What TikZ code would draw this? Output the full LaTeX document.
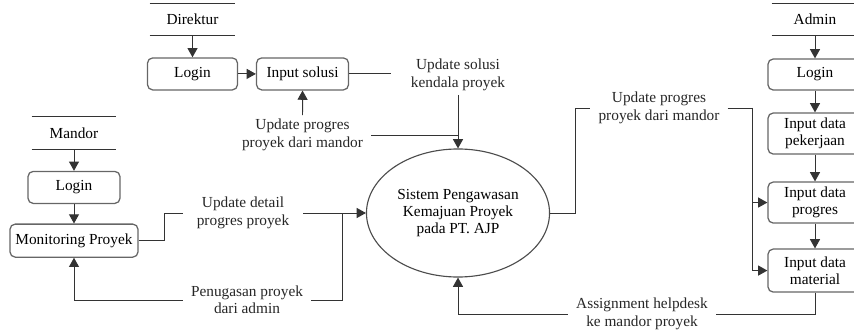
\documentclass[tikz,border=0pt]{standalone}
\usepackage{fontspec}
\setmainfont{Liberation Serif}
\usetikzlibrary{shapes.geometric, arrows.meta, positioning}
\tikzstyle{actor} = [rectangle, minimum width=2.1cm, minimum height=0.8cm, text centered]
\tikzstyle{process} = [rectangle, rounded corners=0.13cm, minimum width=2.3cm, minimum height=0.8cm, text centered, align=center, draw=black!60, line width=0.9pt, inner sep=1pt]
\tikzstyle{sistem} = [ellipse, minimum width=4.575cm, minimum height=3.2cm, align=center, draw=black!70, line width=0.8pt, inner sep=0pt]
\tikzstyle{flowlabel} = [align=center, inner xsep=0.2cm, inner ysep=0.1cm, text=black!85]
\tikzstyle{flow} = [line width=0.7pt, draw=black!80]
\tikzstyle{arrow} = [line width=0.7pt, draw=black!80, -{Triangle[length=2.3mm,width=2.5mm]}]

\begin{document}
\begin{tikzpicture}[x=0.025cm, y=-0.025cm, node distance=1.36cm, font=\fontsize{10.9}{12.4}\selectfont]
\useasboundingbox (0,0) rectangle (854,334);
\clip (0,0) rectangle (854,334);

% Mandor
\node (mandor) [actor] at (74,133) {Mandor};
\node (mlogin) [process, below of=mandor] {Login};
\node (monitor) [process, below of=mlogin, node distance=1.33cm, minimum width=3.2cm, minimum height=0.825cm] {Monitoring Proyek};

% Direktur
\node (direktur) [actor, minimum width=2.125cm] at (192.5,19.5) {Direktur};
\node (dlogin) [process, below of=direktur, minimum width=2.25cm] {Login};
\node (solusi) [process, right of=dlogin, node distance=2.75cm] {Input solusi};

% Admin
\node (admin) [actor, minimum width=2.15cm] at (815,19.5) {Admin};
\node (alogin) [process, below of=admin, node distance=1.375cm, minimum width=2.35cm, minimum height=0.775cm] {Login};
\node (pekerjaan) [process, below of=alogin, node distance=1.475cm, minimum width=2.35cm, minimum height=1.025cm] {Input data\\pekerjaan};
\node (progres) [process, below of=pekerjaan, node distance=1.725cm, minimum width=2.35cm, minimum height=1.025cm] {Input data\\progres};
\node (material) [process, below of=progres, node distance=1.7cm, minimum width=2.35cm, minimum height=1.075cm] {Input data\\material};

% proses utama
\node (sistem) [sistem] at (458,213) {Sistem Pengawasan\\Kemajuan Proyek\\pada PT. AJP};

% label aliran data
\node (lbldetail) [flowlabel, inner xsep=0.35cm] at (243,213) {Update detail\\progres proyek};
\node (lbltugas) [flowlabel] at (247,300) {Penugasan proyek\\dari admin};
\node (lblsolusi) [flowlabel, inner xsep=0.5cm] at (458,75) {Update solusi\\kendala proyek};
\node (lblmandor) [flowlabel] at (302.5,135) {Update progres\\proyek dari mandor};
\node (lblprogres) [flowlabel] at (659,108) {Update progres\\proyek dari mandor};
\node (lblassign) [flowlabel] at (642,314) {Assignment helpdesk\\ke mandor proyek};

\coordinate (jdetail) at (342,213);
\coordinate (jprogres) at (752,108);

% garis entitas
\draw [flow] (mandor.north west) -- (mandor.north east);
\draw [flow] (mandor.south west) -- (mandor.south east);
\draw [flow] (direktur.north west) -- (direktur.north east);
\draw [flow] (direktur.south west) -- (direktur.south east);
\draw [flow] (admin.north west) -- (admin.north east);
\draw [flow] (admin.south west) -- (admin.south east);

\draw [arrow] (mandor) -- (mlogin);
\draw [arrow] (mlogin) -- (monitor);
\draw [arrow] (direktur) -- (dlogin);
\draw [arrow] (dlogin) -- (solusi);
\draw [arrow] (admin) -- (alogin);
\draw [arrow] (alogin) -- (pekerjaan);
\draw [arrow] (pekerjaan) -- (progres);
\draw [arrow] (progres) -- (material);

\draw [flow] (monitor.east) -- ++(26,0) |- (lbldetail.west);
\draw [arrow] (lbldetail.east) -- (sistem.west);
\draw [flow] (jdetail) |- (lbltugas.east);
\draw [arrow] (lbltugas.west) -| (monitor.south);

\draw [flow] (solusi.east) -- (lblsolusi.west |- solusi.east);
\draw [arrow] (lblsolusi.south) -- (sistem.north);
\draw [arrow] (lblmandor.north) -- (solusi.south);
\draw [flow] (lblmandor.east) -- (lblmandor.east -| sistem.north);

\draw [flow] (sistem.east) -- ++(25,0) |- (lblprogres.west);
\draw [flow] (lblprogres.east) -- (jprogres);
\draw [arrow] (jprogres) |- (progres.west);
\draw [arrow] (jprogres) |- (material.west);
\draw [flow] (material.south) |- (lblassign.east);
\draw [arrow] (lblassign.west) -| (sistem.south);

\end{tikzpicture}
\end{document}
